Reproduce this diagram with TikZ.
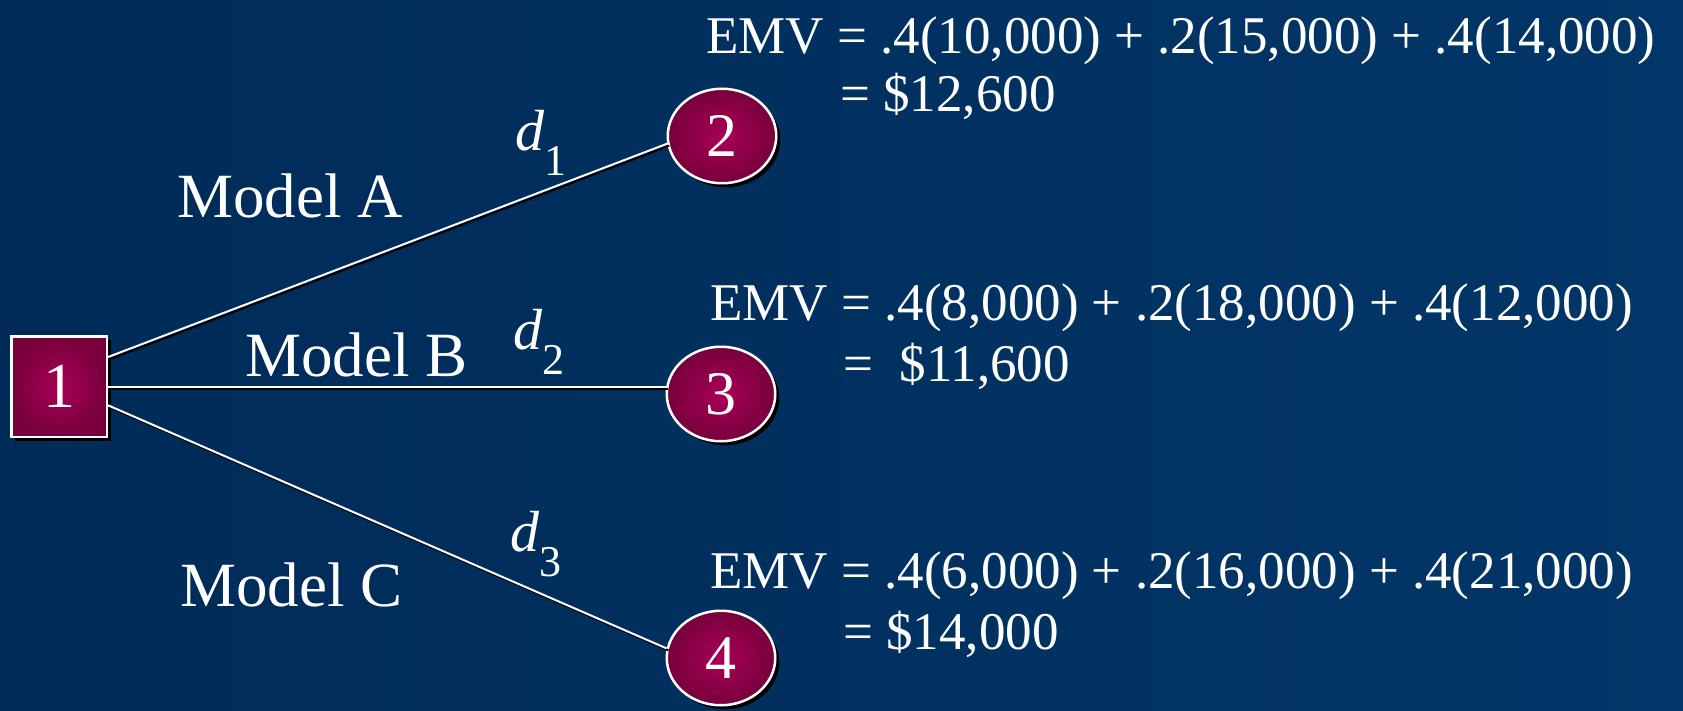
\documentclass[tikz,border=0pt]{standalone}
\usepackage{fontspec}
\setmainfont{Liberation Serif}
\usetikzlibrary{shapes.geometric,shadows}
\definecolor{bgleft}{RGB}{0,43,88}
\definecolor{bgright}{RGB}{2,54,104}
\definecolor{mzin}{RGB}{168,0,86}
\definecolor{mzout}{RGB}{120,0,60}
\newcommand{\dsub}[1]{\textit{d}\raisebox{-25pt}{\fontsize{44}{44}\selectfont #1}}
\begin{document}
\begin{tikzpicture}[x=1pt,y=-1pt,
  nodeshadow/.style={drop shadow={shadow xshift=4pt,shadow yshift=-4pt,opacity=1,fill=black}},
  decision/.style={rectangle, draw=white, line width=2.5pt, inner color=mzin, outer color=mzout,
    minimum width=95.5pt, minimum height=100.5pt, inner sep=0pt, text=white,
    font=\fontsize{64}{64}\selectfont, nodeshadow},
  chance/.style={ellipse, draw=white, line width=2.5pt, inner color=mzin, outer color=mzout,
    minimum width=108.5pt, minimum height=94.5pt, inner sep=0pt, text=white,
    font=\fontsize{62}{62}\selectfont, nodeshadow},
  branch/.style={white, line width=2pt},
  branchshadow/.style={black, line width=2pt, transform canvas={shift={(2pt,-2pt)}}},
  modellabel/.style={anchor=base west, inner sep=0pt, text=white, font=\fontsize{63}{63}\selectfont},
  dlabel/.style={anchor=base west, inner sep=0pt, text=white, font=\fontsize{58}{58}\selectfont},
  emv/.style={anchor=base west, inner sep=0pt, text=white, font=\fontsize{53}{58}\selectfont}
]
\shade[left color=bgleft, right color=bgright] (0,0) rectangle (1683,711);
\useasboundingbox (0,0) rectangle (1683,711);

\node[decision] (n1) at (59,386.5) {1};
\node[chance] (n2) at (722,136) {2};
\node[chance] (n3) at (721,394) {3};
\node[chance] (n4) at (721,658) {4};

\draw[branchshadow] (n1.31) -- (n2.188);
\draw[branchshadow] (n1.east) -- (n1.east -| n3.west);
\draw[branchshadow] (n1.-21) -- (n4.170);
\draw[branch] (n1.31) -- (n2.188);
\draw[branch] (n1.east) -- (n1.east -| n3.west);
\draw[branch] (n1.-21) -- (n4.170);

\node[modellabel] (ma) at (177,218) {Model A};
\node[modellabel] (mb) at (245,376) {Model B};
\node[modellabel] (mc) at (180,606) {Model C};

\node[dlabel] (d1) at (515,151) {\dsub{1}};
\node[dlabel] (d2) at (513,349) {\dsub{2}};
\node[dlabel] (d3) at (510,551) {\dsub{3}};

\node[emv] (e1) at (706,54) {EMV = .4(10,000) + .2(15,000) + .4(14,000)};
\node[emv] (r1) at (840,112) {= \$12,600};
\node[emv] (e2) at (710,320) {EMV = .4(8,000) + .2(18,000) + .4(12,000)};
\node[emv] (r2) at (843,381) {= \ \$11,600};
\node[emv] (e3) at (710,588) {EMV = .4(6,000) + .2(16,000) + .4(21,000)};
\node[emv] (r3) at (843,649) {= \$14,000};
\end{tikzpicture}
\end{document}
